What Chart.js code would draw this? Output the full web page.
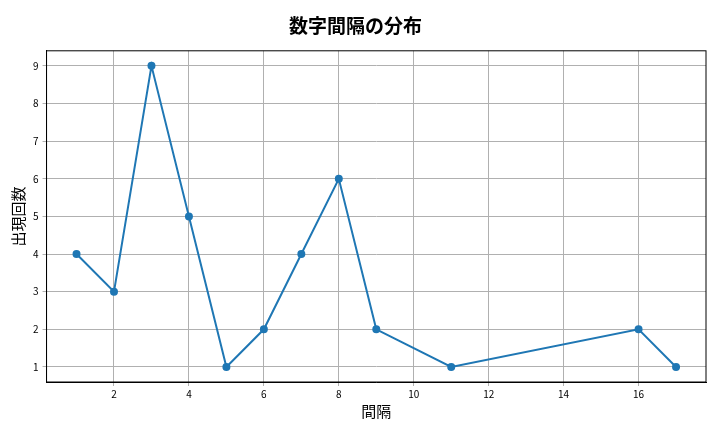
<!DOCTYPE html>
<html><head><meta charset="utf-8">
<script src="https://cdn.jsdelivr.net/npm/chart.js@4/dist/chart.umd.min.js"></script>
<style>body{margin:0;background:#fff}#w{width:720px;height:432px}</style>
</head><body><div id="w"><canvas id="c"></canvas></div>
<script>
const gaps = [1,2,3,4,5,6,7,8,9,11,16,17];
const counts = [4,3,9,5,1,2,4,6,2,1,2,1];
const xTicks = [2,4,6,8,10,12,14,16];
const yTicks = [1,2,3,4,5,6,7,8,9];
const F = "'Noto Sans CJK JP', 'DejaVu Sans', sans-serif";
const boxPlugin = { id: 'box', afterDraw(ch) { const a = ch.chartArea, x = ch.ctx;
  x.save(); x.strokeStyle = '#000'; x.lineWidth = 1; x.strokeRect(a.left, a.top, a.right-a.left, a.bottom-a.top); x.restore(); } };
new Chart(document.getElementById('c'), {
  type: 'line',
  plugins: [boxPlugin],
  data: { datasets: [{
    data: gaps.map((g,i)=>({x:g,y:counts[i]})),
    borderColor: '#1f77b4', backgroundColor: '#1f77b4',
    borderWidth: 2, pointRadius: 3, pointHoverRadius: 3, tension: 0
  }]},
  options: {
    responsive: true, maintainAspectRatio: false, animation: false,
    layout: { padding: { left: 5, right: 14, top: 10, bottom: 8 } },
    plugins: {
      legend: { display: false }, tooltip: { enabled: false },
      title: { display: true, text: '数字間隔の分布', color: '#000',
        font: { family: F, size: 19, weight: 'bold' }, padding: { top: 4, bottom: 14 } }
    },
    scales: {
      x: { type: 'linear', min: 0.2, max: 17.8,
        afterBuildTicks: a => { a.ticks = xTicks.map(v=>({value:v})); },
        grid: { color: '#b0b0b0', drawTicks: true, tickLength: 4 },
        border: { color: '#000' },
        ticks: { color: '#000', font: { family: F, size: 10 }, padding: 2 },
        title: { display: true, text: '間隔', color: '#000', font: { family: F, size: 15 }, padding: { top: 0 } } },
      y: { min: 0.6, max: 9.4,
        afterBuildTicks: a => { a.ticks = yTicks.map(v=>({value:v})); },
        grid: { color: '#b0b0b0', tickLength: 4 },
        border: { color: '#000' },
        ticks: { color: '#000', font: { family: F, size: 10 }, padding: 4 },
        title: { display: true, text: '出現回数', color: '#000', font: { family: F, size: 15 }, padding: { bottom: 2 } } }
    }
  }
});
</script></body></html>
